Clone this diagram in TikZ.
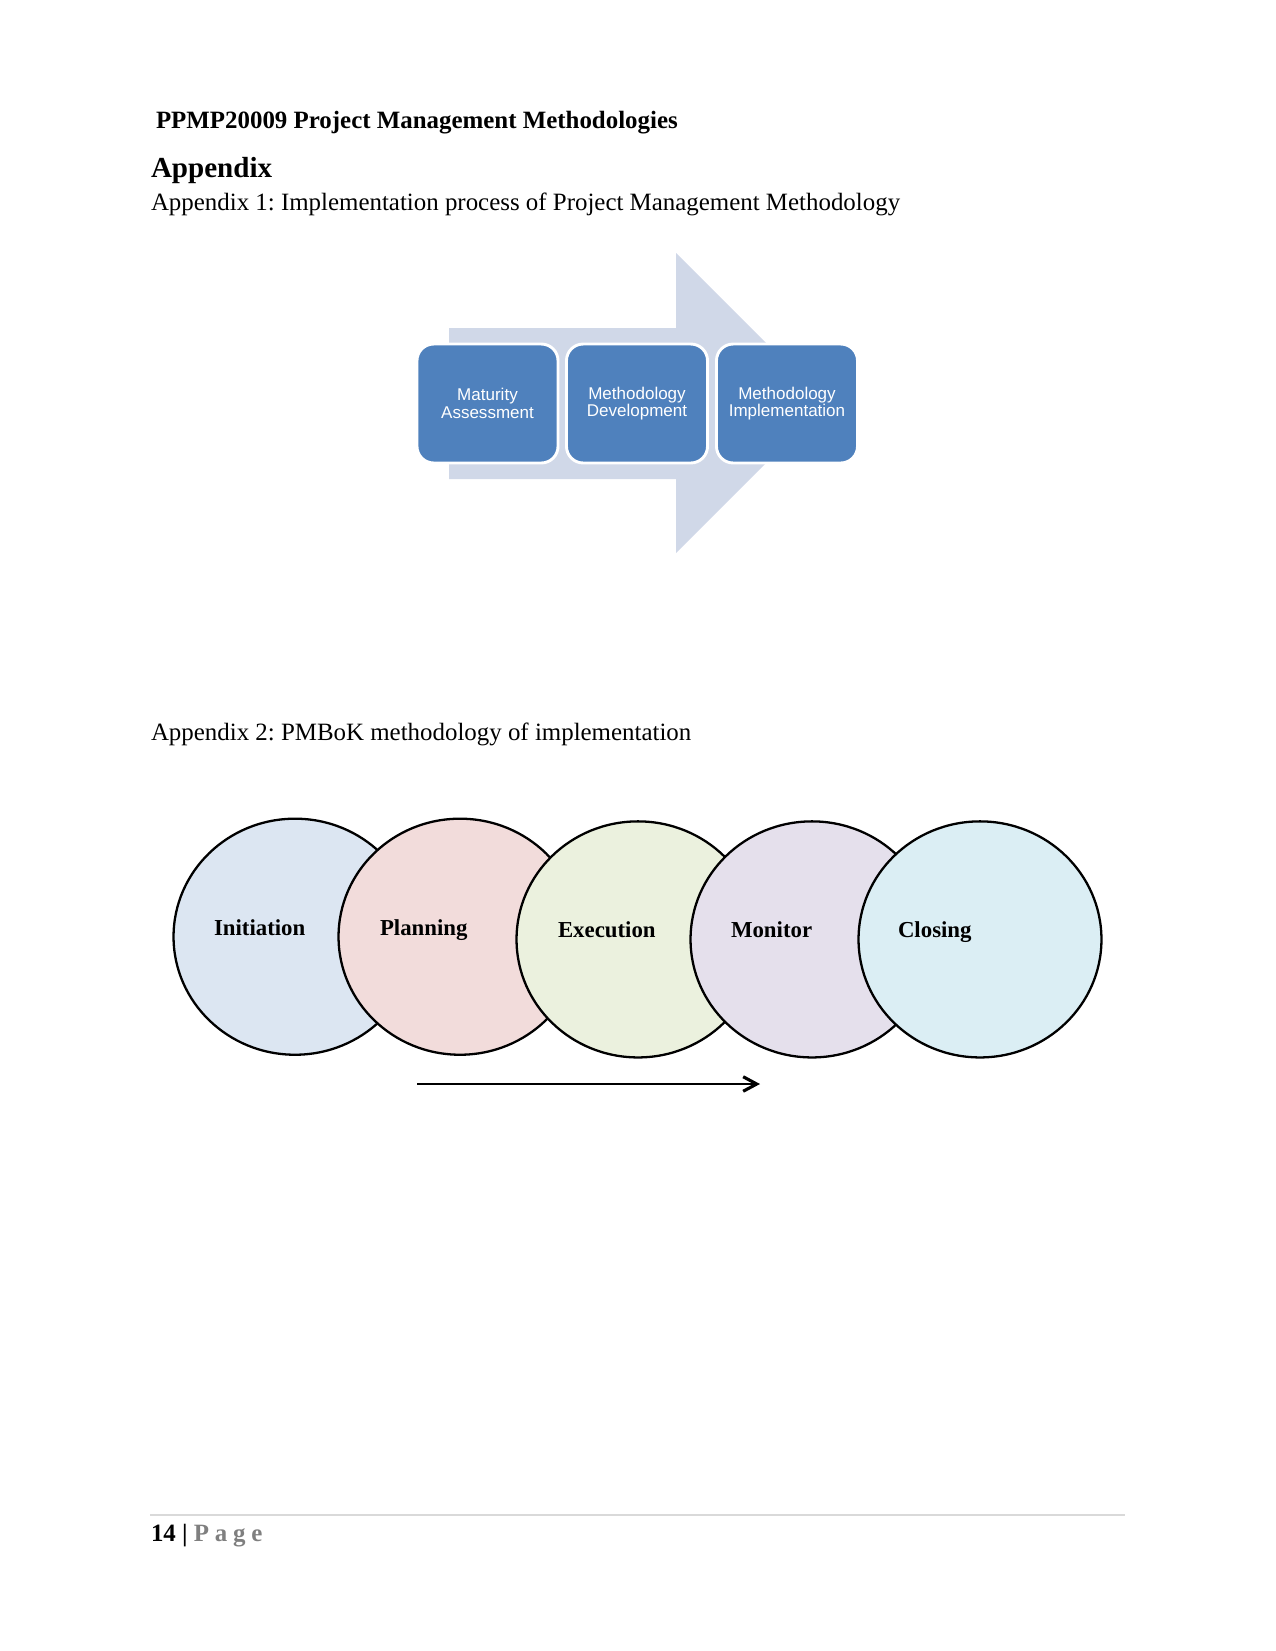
\documentclass[tikz,border=0pt]{standalone}
\usepackage{fontspec}
\setmainfont{Liberation Serif}
\newfontfamily\boxfont{Liberation Sans}
\usetikzlibrary{shapes.geometric,arrows.meta}
\frenchspacing
\definecolor{arrowbg}{HTML}{D0D8E8}
\definecolor{boxblue}{HTML}{4F81BD}
\definecolor{cinit}{HTML}{DCE6F2}
\definecolor{cplan}{HTML}{F2DCDB}
\definecolor{cexec}{HTML}{EBF1DE}
\definecolor{cmon}{HTML}{E5E0EC}
\definecolor{cclose}{HTML}{DBEEF4}
\definecolor{footgray}{HTML}{7F7F7F}
\definecolor{rulegray}{HTML}{D9D9D9}
\tikzset{
  txt/.style={anchor=base west, inner sep=0pt, outer sep=0pt},
  stagebox/.style={rectangle, rounded corners=8bp, fill=boxblue, draw=white, line width=1.4bp,
    minimum width=67.7bp, minimum height=57.1bp, inner sep=0pt, text=white, align=center,
    font=\boxfont\fontsize{8.2}{8.4}\selectfont},
  phase/.style={ellipse, draw=black, line width=1.1bp, minimum width=116.6bp, minimum height=113.3bp,
    inner sep=0pt, outer sep=0pt},
  phaselabel/.style={txt, font=\fontsize{11}{13}\selectfont\bfseries},
}
\begin{document}
\begin{tikzpicture}[x=0.48bp, y=-0.48bp]
\useasboundingbox (0,0) rectangle (1275,1651);
% header texts
\node[txt, font=\fontsize{12}{14}\selectfont\bfseries] (hdr) at (156,128) {PPMP20009 Project Management Methodologies};
\node[txt, font=\fontsize{14}{16}\selectfont\bfseries] (apx) at (151,177.5) {Appendix};
\node[txt, font=\fontsize{12}{14}\selectfont] (apx1) at (151,210.5) {Appendix 1: Implementation process of Project Management Methodology};
% big background arrow
\fill[arrowbg] (449,328) -- (676,328) -- (676,253) -- (826,403) -- (676,553) -- (676,479) -- (449,479) -- cycle;
% three stage boxes
\node[stagebox] (mat) at (487.5,403.5) {Maturity\\Assessment};
\node[stagebox] (dev) at (637,403.5) {Methodology\\Development};
\node[stagebox] (imp) at (787,403.5) {Methodology\\Implementation};
% appendix 2
\node[txt, font=\fontsize{12}{14}\selectfont] (apx2) at (151,740.7) {Appendix 2: PMBoK methodology of implementation};
% circles
\node[phase, fill=cinit] (c1) at (295,936.7) {};
\node[phase, fill=cplan] (c2) at (460,936.7) {};
\node[phase, fill=cexec] (c3) at (638,939.4) {};
\node[phase, fill=cmon] (c4) at (812,939.4) {};
\node[phase, fill=cclose] (c5) at (980,939.4) {};
\node[phaselabel] (l1) at (214,935) {Initiation};
\node[phaselabel] (l2) at (380,935) {Planning};
\node[phaselabel] (l3) at (558,937.7) {Execution};
\node[phaselabel] (l4) at (731,937.7) {Monitor};
\node[phaselabel] (l5) at (898,937.7) {Closing};
% bottom arrow
\coordinate (as) at (417,1084);
\coordinate (ae) at (760,1084);
\draw[line width=1.4bp, -{Straight Barb[length=6.5bp, width=7bp, line width=1.5bp]}] (as) -- (ae);
% footer
\coordinate (fl) at (150,1515);
\coordinate (fr) at (1125,1515);
\draw[rulegray, line width=0.6bp] (fl) -- (fr);
\node[txt, font=\fontsize{12}{14}\selectfont\bfseries] (foot) at (151,1541) {14 | \textcolor{footgray}{P\hspace{2.8bp}a\hspace{2.8bp}g\hspace{2.8bp}e}};
\end{tikzpicture}
\end{document}
